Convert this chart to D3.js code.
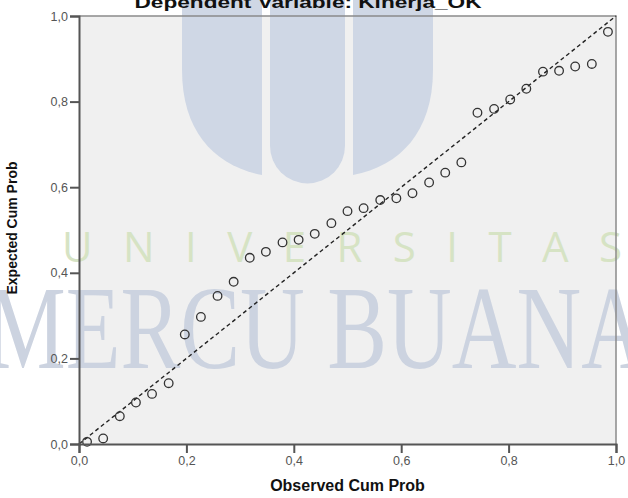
<!DOCTYPE html>
<html>
<head>
<meta charset="utf-8">
<script src="https://cdn.jsdelivr.net/npm/d3@7"></script>
<style>
  body { margin: 0; background: #fff; }
  text { font-family: "Liberation Sans", Arial, sans-serif; }
</style>
</head>
<body>
<div id="chart"></div>
<script>
// data
const observed = [0.015, 0.045, 0.076, 0.106, 0.136, 0.167, 0.197, 0.227, 0.258, 0.288, 0.318,
    0.348, 0.379, 0.409, 0.439, 0.470, 0.500, 0.530, 0.561, 0.591, 0.621, 0.652,
    0.682, 0.712, 0.742, 0.773, 0.803, 0.833, 0.864, 0.894, 0.924, 0.955, 0.985];
const expected = [0.005, 0.013, 0.065, 0.097, 0.117, 0.142, 0.256, 0.297, 0.346, 0.379, 0.435,
    0.449, 0.471, 0.477, 0.491, 0.516, 0.544, 0.551, 0.570, 0.574, 0.586, 0.611,
    0.634, 0.658, 0.774, 0.783, 0.805, 0.830, 0.870, 0.872, 0.882, 0.888, 0.963];
const tickValues = [0, 0.2, 0.4, 0.6, 0.8, 1.0];
const refLine = [0, 1];

const titleText = "Dependent Variable: Kinerja_OK";
const xLabel = "Observed Cum Prob";
const yLabel = "Expected Cum Prob";

// basic setup
const W = 628, H = 498;
const margin = { top: 16, right: 12, bottom: 54, left: 79 };
const width = W - margin.left - margin.right;
const height = H - margin.top - margin.bottom;

const root = d3.select("#chart")
    .append("svg")
    .attr("width", W)
    .attr("height", H);

root.append("rect").attr("width", W).attr("height", H).attr("fill", "#fff");

const svg = root.append("g")
    .attr("transform", `translate(${margin.left},${margin.top})`);

// plot background
svg.append("rect")
    .attr("width", width)
    .attr("height", height)
    .attr("fill", "#f0f0f0");

// watermark (logo + text)
const wm = root.append("g");
wm.append("path")
    .attr("d", "M182,0 H262 V175 C215,166 182,132 182,70 Z")
    .attr("fill", "#cfd7e5");
wm.append("path")
    .attr("d", "M270,0 H345 V146 A37.5,37.5 0 0 1 270,146 Z")
    .attr("fill", "#cfd7e5");
wm.append("path")
    .attr("d", "M353,0 H433 V70 C433,132 400,166 353,175 Z")
    .attr("fill", "#cfd7e5");

wm.append("text")
    .attr("x", 62)
    .attr("y", 262)
    .attr("textLength", 560)
    .attr("lengthAdjust", "spacing")
    .style("font-family", "'Open Sans', 'Liberation Sans', sans-serif")
    .style("font-size", "42px")
    .attr("fill", "#d6e3c4")
    .text("UNIVERSITAS");

wm.append("text")
    .attr("x", -14)
    .attr("y", 368)
    .attr("textLength", 660)
    .attr("lengthAdjust", "spacingAndGlyphs")
    .style("font-family", "'Liberation Serif', 'DejaVu Serif', serif")
    .style("font-size", "118px")
    .attr("fill", "#ccd3e0")
    .text("MERCU BUANA");

// scales
const xScale = d3.scaleLinear().domain([0, 1]).range([0, width]);
const yScale = d3.scaleLinear().domain([0, 1]).range([height, 0]);
const fmt = d => d3.format(".1f")(d).replace(".", ",");

const plot = root.append("g")
    .attr("transform", `translate(${margin.left},${margin.top})`);

// frame top/right
plot.append("path")
    .attr("d", `M0,0 H${width} V${height}`)
    .attr("fill", "none")
    .attr("stroke", "#8a8a8a")
    .attr("stroke-width", 1.5);

// reference diagonal
plot.append("path")
    .attr("d", d3.line().x(d => xScale(d)).y(d => yScale(d))(refLine))
    .attr("fill", "none")
    .attr("stroke", "#222")
    .attr("stroke-width", 1.4)
    .attr("stroke-dasharray", "4,3");

// points
plot.selectAll("circle")
    .data(observed.map((o, i) => ({ o, e: expected[i] })))
    .enter()
    .append("circle")
    .attr("cx", d => xScale(d.o))
    .attr("cy", d => yScale(d.e))
    .attr("r", 4.3)
    .attr("fill", "none")
    .attr("stroke", "#333")
    .attr("stroke-width", 1.3);

// axes
const xAxis = plot.append("g")
    .attr("transform", `translate(0,${height})`)
    .call(d3.axisBottom(xScale).tickValues(tickValues).tickFormat(fmt).tickSizeOuter(0).tickSize(9).tickPadding(3));

const yAxis = plot.append("g")
    .call(d3.axisLeft(yScale).tickValues(tickValues).tickFormat(fmt).tickSizeOuter(0).tickSize(9).tickPadding(2));

[xAxis, yAxis].forEach(ax => {
    ax.selectAll("path, line").attr("stroke", "#555").attr("stroke-width", 2);
    ax.selectAll("text").attr("fill", "#555").style("font-size", "12.5px");
});

// title (cut off at the top in the original)
root.append("text")
    .attr("x", 308)
    .attr("y", 8)
    .attr("text-anchor", "middle")
    .attr("textLength", 347)
    .attr("lengthAdjust", "spacingAndGlyphs")
    .style("font-size", "17px")
    .style("font-weight", "bold")
    .attr("fill", "#111")
    .text(titleText);

// labels
root.append("text")
    .attr("x", margin.left + width / 2)
    .attr("y", 491)
    .attr("text-anchor", "middle")
    .style("font-size", "16px")
    .style("font-weight", "bold")
    .attr("fill", "#111")
    .text(xLabel);

root.append("text")
    .attr("transform", "rotate(-90)")
    .attr("x", -228)
    .attr("y", 17)
    .attr("text-anchor", "middle")
    .style("font-size", "14px")
    .style("font-weight", "bold")
    .attr("fill", "#111")
    .text(yLabel);
</script>
</body>
</html>
